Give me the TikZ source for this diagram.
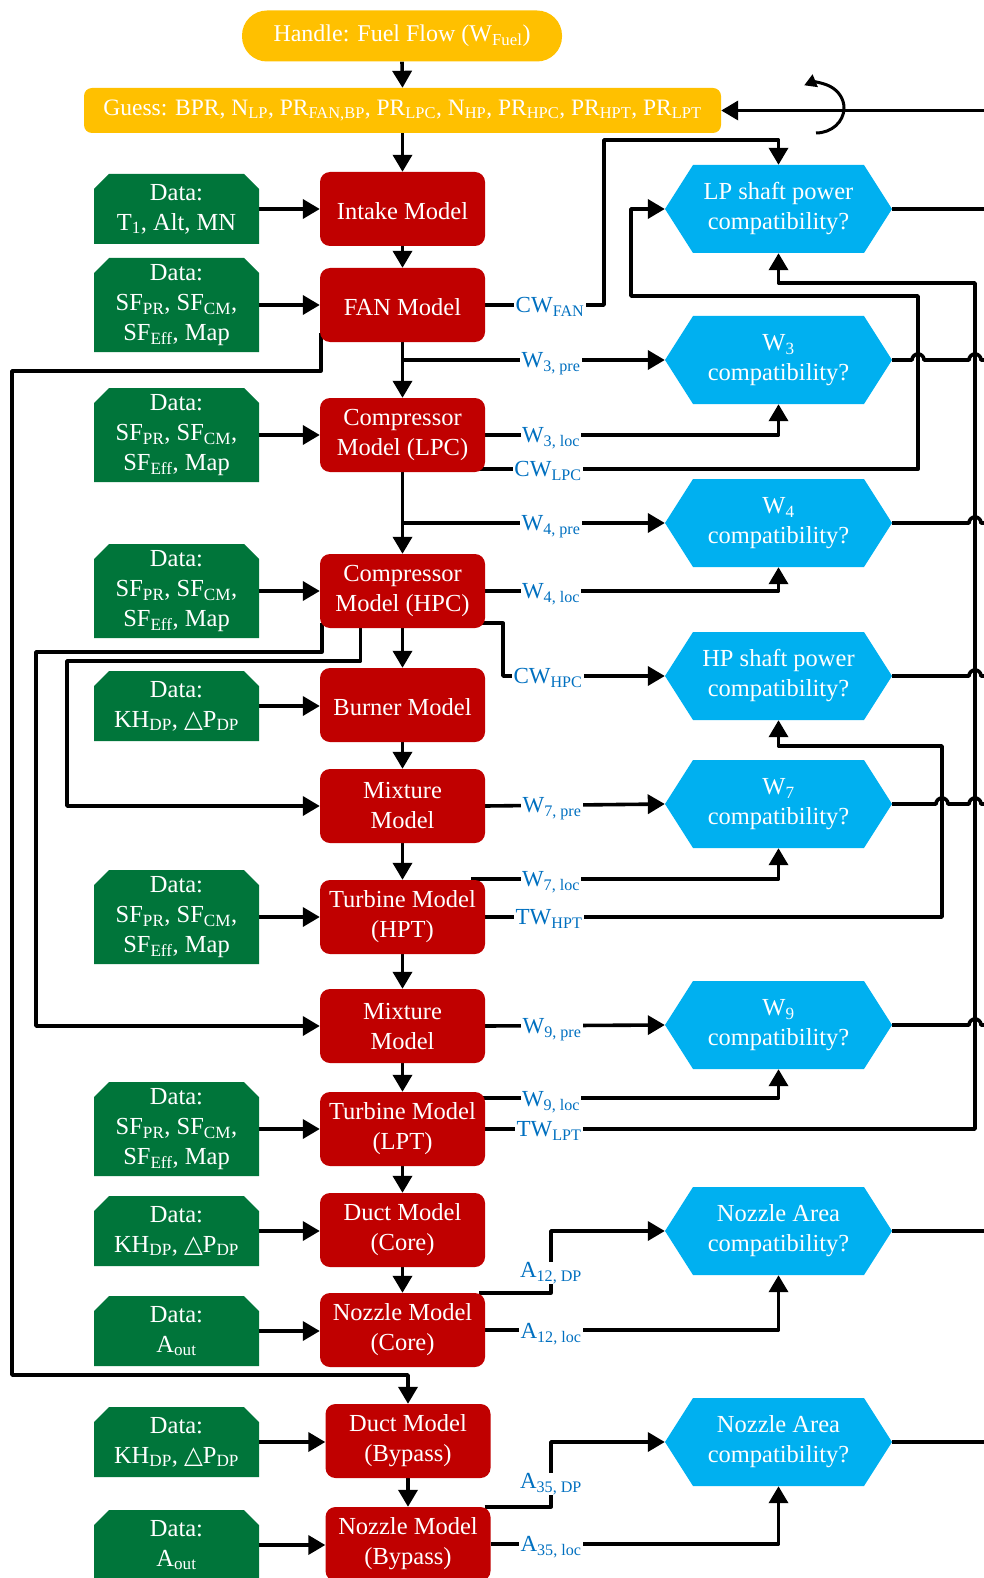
\documentclass[tikz,border=0pt]{standalone}
\usepackage{fontspec}
\setmainfont{Liberation Serif}
\newfontfamily\symf{DejaVu Sans}
\usetikzlibrary{arrows.meta,calc}
\definecolor{cgold}{HTML}{FFC000}
\definecolor{cred}{HTML}{C00000}
\definecolor{cgreen}{HTML}{00753A}
\definecolor{cblue}{HTML}{00B0F0}
\definecolor{clbl}{HTML}{0070C0}
\newcommand{\sbs}[1]{\textsubscript{#1}}
\newcommand{\tri}{{\symf △}}
\pgfdeclarelayer{bg}
\pgfsetlayers{bg,main}
\tikzset{
  mainfont/.style={font=\fontsize{24.5}{30}\selectfont, execute at begin node={\rule{0pt}{22pt}}},
  conn/.style={line width=3.6pt, line join=round, draw=black},
  arr/.style={conn, -{Triangle[length=17pt,width=19pt]}},
  goldbox/.style={font=\fontsize{24}{30}\selectfont, fill=cgold, text=white, inner sep=0pt, align=center},
  redbox/.style={mainfont, fill=cred, text=white, rounded corners=10pt, minimum width=165pt, minimum height=74pt, inner sep=0pt, align=center},
  greenbox/.style={mainfont, text=white, minimum width=165pt, inner sep=0pt, align=center,
    path picture={\fill[cgreen] ([yshift=-15pt]path picture bounding box.north west) -- ([xshift=15pt]path picture bounding box.north west) -- ([xshift=-15pt]path picture bounding box.north east) -- ([yshift=-15pt]path picture bounding box.north east) -- (path picture bounding box.south east) -- (path picture bounding box.south west) -- cycle;}},
  gtwo/.style={greenbox, minimum height=70pt},
  gthree/.style={greenbox, minimum height=94pt},
  hexa/.style={mainfont, text=white, minimum width=227pt, minimum height=88pt, inner sep=0pt, align=center,
    path picture={\fill[cblue] ([xshift=28pt]path picture bounding box.north west) -- ([xshift=-28pt]path picture bounding box.north east) -- (path picture bounding box.east) -- ([xshift=-28pt]path picture bounding box.south east) -- ([xshift=28pt]path picture bounding box.south west) -- (path picture bounding box.west) -- cycle;}},
  lbl/.style={font=\fontsize{23}{26}\selectfont, text=clbl, fill=white, inner xsep=1.5pt, inner ysep=0pt, anchor=base, yshift=-7.5pt}
}
\begin{document}
\begin{tikzpicture}[x=1pt,y=-1pt]
\useasboundingbox (0,0) rectangle (984,1578);
\clip (0,0) rectangle (984,1578);

% top
\node[goldbox, minimum width=320pt, minimum height=51pt, rounded corners=25pt] (handle) at (402,36) {Handle: Fuel Flow (W\sbs{Fuel})};
\node[goldbox, font=\fontsize{23.5}{28}\selectfont, minimum width=637pt, minimum height=45pt, rounded corners=8pt] (guess) at (402.5,110.5) {Guess: BPR, N\sbs{LP}, PR\sbs{FAN,BP}, PR\sbs{LPC}, N\sbs{HP}, PR\sbs{HPC}, PR\sbs{HPT}, PR\sbs{LPT}};

% red models
\node[redbox] (intake) at (402.5,209) {Intake Model};
\node[redbox] (fan) at (402.5,305) {FAN Model};
\node[redbox] (lpc) at (402.5,435) {Compressor\\Model (LPC)};
\node[redbox] (hpc) at (402.5,591) {Compressor\\Model (HPC)};
\node[redbox] (burner) at (402.5,705) {Burner Model};
\node[redbox] (mixa) at (402.5,806) {Mixture\\Model};
\node[redbox] (hpt) at (402.5,917) {Turbine Model\\(HPT)};
\node[redbox] (mixb) at (402.5,1026) {Mixture\\Model};
\node[redbox] (lpt) at (402.5,1129) {Turbine Model\\(LPT)};
\node[redbox] (dcore) at (402.5,1230) {Duct Model\\(Core)};
\node[redbox] (ncore) at (402.5,1330) {Nozzle Model\\(Core)};
\node[redbox] (dbyp) at (408,1441) {Duct Model\\(Bypass)};
\node[redbox] (nbyp) at (408,1544) {Nozzle Model\\(Bypass)};

% green data
\node[gtwo] (g1) at (176.5,209) {Data:\\T\sbs{1}, Alt, MN};
\node[gthree] (g2) at (176.5,305) {Data:\\SF\sbs{PR}, SF\sbs{CM},\\SF\sbs{Eff}, Map};
\node[gthree] (g3) at (176.5,435) {Data:\\SF\sbs{PR}, SF\sbs{CM},\\SF\sbs{Eff}, Map};
\node[gthree] (g4) at (176.5,591) {Data:\\SF\sbs{PR}, SF\sbs{CM},\\SF\sbs{Eff}, Map};
\node[gtwo] (g5) at (176.5,706) {Data:\\KH\sbs{DP}, \tri P\sbs{DP}};
\node[gthree] (g6) at (176.5,917) {Data:\\SF\sbs{PR}, SF\sbs{CM},\\SF\sbs{Eff}, Map};
\node[gthree] (g7) at (176.5,1129) {Data:\\SF\sbs{PR}, SF\sbs{CM},\\SF\sbs{Eff}, Map};
\node[gtwo] (g8) at (176.5,1231) {Data:\\KH\sbs{DP}, \tri P\sbs{DP}};
\node[gtwo] (g9) at (176.5,1331) {Data:\\A\sbs{out}};
\node[gtwo] (g10) at (176.5,1442) {Data:\\KH\sbs{DP}, \tri P\sbs{DP}};
\node[gtwo] (g11) at (176.5,1545) {Data:\\A\sbs{out}};

% blue checks
\node[hexa] (lp) at (778.5,209) {LP shaft power\\compatibility?};
\node[hexa] (w3) at (778.5,360) {W\sbs{3}\\compatibility?};
\node[hexa] (w4) at (778.5,523) {W\sbs{4}\\compatibility?};
\node[hexa] (hp) at (778.5,676) {HP shaft power\\compatibility?};
\node[hexa] (w7) at (778.5,804) {W\sbs{7}\\compatibility?};
\node[hexa] (w9) at (778.5,1025) {W\sbs{9}\\compatibility?};
\node[hexa] (na1) at (778.5,1231) {Nozzle Area\\compatibility?};
\node[hexa] (na2) at (778.5,1442) {Nozzle Area\\compatibility?};

% channel coordinates
\coordinate (R) at (984,0);
\coordinate (xTW) at (975,0);
\coordinate (xHPv) at (942,0);
\coordinate (xLPv) at (918,0);
\coordinate (xLPin) at (631,0);
\coordinate (xCWF) at (604,0);
\coordinate (xA) at (551,0);
\coordinate (xCWH) at (503,0);
\coordinate (xL1) at (12,0);
\coordinate (xL2) at (36,0);
\coordinate (xL3) at (67,0);
\coordinate (yTop) at (0,140);
\coordinate (yLPin) at (0,296);
\coordinate (yTWL) at (0,283);
\coordinate (yTWH) at (0,746);
\coordinate (yF) at (0,371);
\coordinate (yG) at (0,1375);
\coordinate (yA) at (0,652);
\coordinate (yB) at (0,661);
\coordinate (fA) at ([xshift=1pt,yshift=9pt]fan.south west);
\coordinate (hA) at ([xshift=2pt,yshift=5pt]hpc.south west);
\coordinate (hB) at ([xshift=-42pt]hpc.south);
\coordinate (cwl) at ([xshift=-8pt,yshift=3pt]lpc.south east);
\coordinate (cwh) at ([xshift=-8pt,yshift=5pt]hpc.south east);
\coordinate (h7) at ([xshift=-14pt,yshift=1pt]hpt.north east);
\coordinate (h9) at ([xshift=-6pt,yshift=-6pt]lpt.north east);
\coordinate (a12) at ([xshift=-6pt]ncore.north east);
\coordinate (a35) at ([xshift=-6pt]nbyp.north east);
\coordinate (lc) at (816,133);

\begin{pgfonlayer}{bg}
% main chain
\draw[arr] (handle.south) -- (guess.north);
\draw[arr] (guess.south) -- (intake.north);
\draw[arr] (intake) -- (fan);
\draw[arr] (fan) -- (lpc);
\draw[arr] (lpc) -- (hpc);
\draw[arr] (hpc) -- (burner);
\draw[arr] (burner) -- (mixa);
\draw[arr] (mixa) -- (hpt);
\draw[arr] (hpt) -- (mixb);
\draw[arr] (mixb) -- (lpt);
\draw[arr] (lpt) -- (dcore);
\draw[arr] (dcore) -- (ncore);
\draw[arr] (dbyp) -- (nbyp);
% data inputs
\foreach \g/\r in {g1/intake,g2/fan,g3/lpc,g4/hpc,g5/burner,g6/hpt,g7/lpt,g8/dcore,g9/ncore,g10/dbyp,g11/nbyp}
  \draw[arr] (\g.east) -- (\g.east -| \r.west);
% feedback lines on the left
\draw[arr] (fA) -- (fA |- yF) -- (xL1 |- yF) -- (xL1 |- yG) -- (dbyp.north |- yG) -- (dbyp.north);
\draw[arr] (hA) -- (hA |- yA) -- (xL2 |- yA) -- (xL2 |- mixb.west) -- (mixb.west);
\draw[arr] (hB) -- (hB |- yB) -- (xL3 |- yB) -- (xL3 |- mixa.west) -- (mixa.west);
% LP shaft
\draw[arr] (fan.east) -- (xCWF |- fan.east) -- (xCWF |- yTop) -- (lp.north |- yTop) -- (lp.north);
\draw[arr] (cwl) -- (xLPv |- cwl) -- (xLPv |- yLPin) -- (xLPin |- yLPin) -- (xLPin |- lp.west) -- (lp.west);
\draw[arr] (lpt.east) -- (xTW |- lpt.east) -- (xTW |- yTWL) -- (lp.south |- yTWL) -- (lp.south);
% W3, W4
\draw[arr] (fan.south |- w3.west) -- (w3.west);
\draw[arr] (lpc.east) -- (lpc.east -| w3.south) -- (w3.south);
\draw[arr] (lpc.south |- w4.west) -- (w4.west);
\draw[arr] (hpc.east) -- (hpc.east -| w4.south) -- (w4.south);
% HP shaft
\draw[arr] (cwh) -- (xCWH |- cwh) -- (xCWH |- hp.west) -- (hp.west);
\draw[arr] (hpt.east) -- (xHPv |- hpt.east) -- (xHPv |- yTWH) -- (hp.south |- yTWH) -- (hp.south);
% W7, W9
\draw[arr] (mixa.east) -- (w7.west);
\draw[arr] (h7) -- (h7 -| w7.south) -- (w7.south);
\draw[arr] (mixb.east) -- (w9.west);
\draw[arr] (h9) -- (h9 -| w9.south) -- (w9.south);
% nozzle areas
\draw[arr] (a12) -- (xA |- a12) -- (xA |- na1.west) -- (na1.west);
\draw[arr] (ncore.east) -- (ncore.east -| na1.south) -- (na1.south);
\draw[arr] (a35) -- (xA |- a35) -- (xA |- na2.west) -- (na2.west);
\draw[arr] (nbyp.east) -- (nbyp.east -| na2.south) -- (na2.south);
% outputs to the right
\draw[conn] (lp.east) -- (R |- lp.east);
\draw[conn] (w3.east) -- ($(xLPv |- w3.east)+(-6,0)$) arc[start angle=180,end angle=0,radius=6pt] -- ($(xTW |- w3.east)+(-6,0)$) arc[start angle=180,end angle=0,radius=6pt] -- (R |- w3.east);
\draw[conn] (w4.east) -- ($(xTW |- w4.east)+(-6,0)$) arc[start angle=180,end angle=0,radius=6pt] -- (R |- w4.east);
\draw[conn] (hp.east) -- ($(xTW |- hp.east)+(-6,0)$) arc[start angle=180,end angle=0,radius=6pt] -- (R |- hp.east);
\draw[conn] (w7.east) -- ($(xHPv |- w7.east)+(-6,0)$) arc[start angle=180,end angle=0,radius=6pt] -- ($(xTW |- w7.east)+(-6,0)$) arc[start angle=180,end angle=0,radius=6pt] -- (R |- w7.east);
\draw[conn] (w9.east) -- ($(xTW |- w9.east)+(-6,0)$) arc[start angle=180,end angle=0,radius=6pt] -- (R |- w9.east);
\draw[conn] (na1.east) -- (R |- na1.east);
\draw[conn] (na2.east) -- (R |- na2.east);
% iteration feedback
\draw[arr] (R |- guess.east) -- (guess.east);
\draw[line width=3pt, -{Triangle[length=12pt,width=13pt]}] (lc) arc[start angle=-90,end angle=115,x radius=28pt,y radius=25pt];
\end{pgfonlayer}

% labels
\node[lbl] at (550,305) {CW\sbs{FAN}};
\node[lbl] at (551,360) {W\sbs{3, pre}};
\node[lbl] at (551,435) {W\sbs{3, loc}};
\node[lbl] at (548,469) {CW\sbs{LPC}};
\node[lbl] at (551,523) {W\sbs{4, pre}};
\node[lbl] at (551,591) {W\sbs{4, loc}};
\node[lbl] at (548,676) {CW\sbs{HPC}};
\node[lbl] at (552,805) {W\sbs{7, pre}};
\node[lbl] at (551,879) {W\sbs{7, loc}};
\node[lbl] at (549,917) {TW\sbs{HPT}};
\node[lbl] at (552,1026) {W\sbs{9, pre}};
\node[lbl] at (551,1099) {W\sbs{9, loc}};
\node[lbl] at (549,1129) {TW\sbs{LPT}};
\node[lbl] at (551,1270) {A\sbs{12, DP}};
\node[lbl] at (551,1331) {A\sbs{12, loc}};
\node[lbl] at (551,1481) {A\sbs{35, DP}};
\node[lbl] at (551,1544) {A\sbs{35, loc}};
\end{tikzpicture}
\end{document}
